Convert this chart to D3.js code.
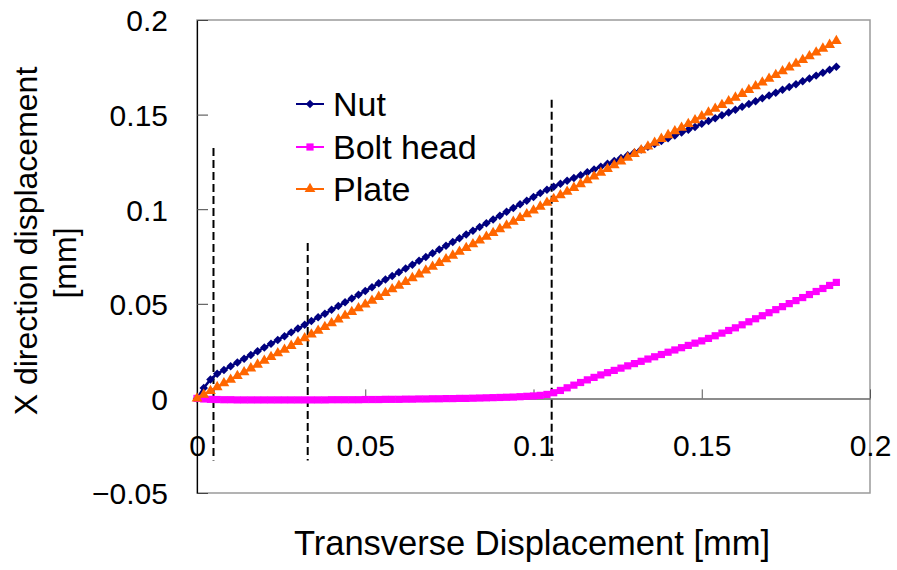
<!DOCTYPE html>
<html lang="en">

<head>
  <meta charset="utf-8">
  <title>X direction displacement</title>
  <script src="https://d3js.org/d3.v7.min.js"></script>
  <style>
	body {
	  margin: 0;
	  background: #fff;
	  font-family: "Liberation Sans", Arial, sans-serif;
	}
	svg text {
	  fill: #000;
	}
  </style>
</head>

<body>
  <script>
	// transverse displacement [mm]
	var transverse = [
		0, 0.002, 0.004, 0.006, 0.008, 0.01, 0.012, 0.014, 0.016, 0.018,
		0.02, 0.022, 0.024, 0.026, 0.028, 0.03, 0.032, 0.034, 0.036, 0.038,
		0.04, 0.042, 0.044, 0.046, 0.048, 0.05, 0.052, 0.054, 0.056, 0.058,
		0.06, 0.062, 0.064, 0.066, 0.068, 0.07, 0.072, 0.074, 0.076, 0.078,
		0.08, 0.082, 0.084, 0.086, 0.088, 0.09, 0.092, 0.094, 0.096, 0.098,
		0.1, 0.102, 0.104, 0.106, 0.108, 0.11, 0.112, 0.114, 0.116, 0.118,
		0.12, 0.122, 0.124, 0.126, 0.128, 0.13, 0.132, 0.134, 0.136, 0.138,
		0.14, 0.142, 0.144, 0.146, 0.148, 0.15, 0.152, 0.154, 0.156, 0.158,
		0.16, 0.162, 0.164, 0.166, 0.168, 0.17, 0.172, 0.174, 0.176, 0.178,
		0.18, 0.182, 0.184, 0.186, 0.188, 0.19
	];

	var nut = [
		0, 0.0055, 0.0100, 0.0130, 0.0150, 0.0170, 0.0190, 0.0210, 0.0230, 0.0249,
		0.0269, 0.0289, 0.0309, 0.0329, 0.0349, 0.0369, 0.0389, 0.0409, 0.0429, 0.0448,
		0.0468, 0.0488, 0.0508, 0.0528, 0.0548, 0.0568, 0.0588, 0.0608, 0.0628, 0.0647,
		0.0667, 0.0687, 0.0707, 0.0727, 0.0747, 0.0767, 0.0787, 0.0807, 0.0827, 0.0846,
		0.0866, 0.0886, 0.0906, 0.0926, 0.0946, 0.0966, 0.0986, 0.1006, 0.1026, 0.1045,
		0.1065, 0.1085, 0.1103, 0.1119, 0.1135, 0.1150, 0.1165, 0.1180, 0.1195, 0.1210,
		0.1225, 0.1240, 0.1255, 0.1270, 0.1285, 0.1300, 0.1315, 0.1330, 0.1345, 0.1360,
		0.1375, 0.1390, 0.1405, 0.1420, 0.1435, 0.1451, 0.1466, 0.1481, 0.1496, 0.1511,
		0.1526, 0.1541, 0.1556, 0.1571, 0.1586, 0.1601, 0.1616, 0.1631, 0.1646, 0.1661,
		0.1676, 0.1691, 0.1706, 0.1721, 0.1737, 0.1753
	];

	var boltHead = [
		0, -0.0003, -0.0005, -0.0006, -0.0007, -0.0007, -0.0008, -0.0008, -0.0008, -0.0008,
		-0.0008, -0.0008, -0.0008, -0.0008, -0.0008, -0.0008, -0.0008, -0.0008, -0.0008, -0.0008,
		-0.0007, -0.0007, -0.0007, -0.0007, -0.0007, -0.0006, -0.0006, -0.0006, -0.0005, -0.0005,
		-0.0005, -0.0004, -0.0004, -0.0003, -0.0003, -0.0002, -0.0002, -0.0001, -0.0001, 0,
		0, 0.0001, 0.0002, 0.0003, 0.0004, 0.0005, 0.0006, 0.0007, 0.0009, 0.0011,
		0.0013, 0.0016, 0.0021, 0.0030, 0.0042, 0.0056, 0.0070, 0.0084, 0.0098, 0.0111,
		0.0124, 0.0136, 0.0148, 0.0160, 0.0172, 0.0184, 0.0196, 0.0208, 0.0220, 0.0232,
		0.0244, 0.0256, 0.0268, 0.0280, 0.0292, 0.0304, 0.0317, 0.0331, 0.0345, 0.0359,
		0.0373, 0.0389, 0.0405, 0.0421, 0.0437, 0.0453, 0.0469, 0.0485, 0.0501, 0.0517,
		0.0533, 0.0549, 0.0565, 0.0581, 0.0597, 0.0613
	];

	var plate = [
		0, 0.0020, 0.0040, 0.0060, 0.0080, 0.0099, 0.0119, 0.0139, 0.0159, 0.0179,
		0.0199, 0.0219, 0.0239, 0.0258, 0.0278, 0.0298, 0.0318, 0.0338, 0.0358, 0.0378,
		0.0398, 0.0417, 0.0437, 0.0457, 0.0477, 0.0497, 0.0517, 0.0537, 0.0557, 0.0577,
		0.0596, 0.0616, 0.0636, 0.0656, 0.0676, 0.0696, 0.0716, 0.0736, 0.0755, 0.0775,
		0.0795, 0.0815, 0.0835, 0.0855, 0.0875, 0.0895, 0.0914, 0.0934, 0.0954, 0.0974,
		0.0994, 0.1014, 0.1034, 0.1054, 0.1074, 0.1093, 0.1113, 0.1133, 0.1153, 0.1173,
		0.1193, 0.1213, 0.1233, 0.1252, 0.1272, 0.1292, 0.1312, 0.1332, 0.1352, 0.1372,
		0.1392, 0.1412, 0.1431, 0.1451, 0.1471, 0.1491, 0.1511, 0.1531, 0.1551, 0.1571,
		0.1590, 0.1610, 0.1630, 0.1650, 0.1670, 0.1690, 0.1710, 0.1730, 0.1749, 0.1769,
		0.1789, 0.1809, 0.1829, 0.1849, 0.1869, 0.1889
	];

	var seriesNames = ["Nut", "Bolt head", "Plate"];

	// vertical dashed marker lines: x position, top and bottom value
	var dashX = [0.0049, 0.0329, 0.1054];
	var dashTop = [0.1323, 0.0821, 0.1578];
	var dashBottom = [-0.0328, -0.0328, -0.0328];

	var xTicks = [0, 0.05, 0.1, 0.15, 0.2];
	var xTickLabels = ["0", "0.05", "0.1", "0.15", "0.2"];
	var yTicks = [-0.05, 0, 0.05, 0.1, 0.15, 0.2];
	var yTickLabels = ["\u22120.05", "0", "0.05", "0.1", "0.15", "0.2"];

	var w = 897;
	var h = 570;
	var plotLeft = 197, plotRight = 870, plotTop = 20, plotBottom = 493;

	var xScale = d3.scaleLinear().domain([0, 0.2]).range([plotLeft, plotRight]);
	var yScale = d3.scaleLinear().domain([-0.05, 0.2]).range([plotBottom, plotTop]);

	var colours = ["#000080", "#ff00ff", "#ff6600"];
	var symbols = [
		d3.symbol().type(d3.symbolSquare).size(36),   // rotated to a diamond
		d3.symbol().type(d3.symbolSquare).size(52),
		d3.symbol().type(d3.symbolTriangle).size(50)
	];
	var rotations = [45, 0, 0];

	var seriesData = [nut, boltHead, plate].map(function (vals, k) {
		return {
			name: seriesNames[k],
			points: transverse.map(function (x, i) { return [x, vals[i]]; })
		};
	});

	var svg = d3.select("body")
	.append("svg")
	.attr("width", w)
	.attr("height", h);

	// plot frame
	svg.append("rect")
	.attr("x", plotLeft)
	.attr("y", plotTop)
	.attr("width", plotRight - plotLeft)
	.attr("height", plotBottom - plotTop)
	.attr("fill", "none")
	.attr("stroke", "#9a9a9a")
	.attr("stroke-width", 1.5);

	// x axis sits on y = 0
	var xAxis = d3.axisBottom(xScale)
	.tickValues(xTicks)
	.tickFormat(function (d, i) { return xTickLabels[i]; })
	.tickSizeInner(-9)
	.tickSizeOuter(0)
	.tickPadding(36);

	var gx = svg.append("g")
	.attr("transform", "translate(0," + yScale(0) + ")")
	.call(xAxis);
	gx.select(".domain").attr("stroke", "#666").attr("stroke-width", 1.5);
	gx.selectAll(".tick line").attr("stroke", "#555");
	gx.selectAll(".tick text")
	.style("font-family", "'Liberation Sans', Arial, sans-serif")
	.style("font-size", "30px");

	var yAxis = d3.axisLeft(yScale)
	.tickValues(yTicks)
	.tickFormat(function (d, i) { return yTickLabels[i]; })
	.tickSizeInner(-11)
	.tickSizeOuter(0)
	.tickPadding(29);

	var gy = svg.append("g")
	.attr("transform", "translate(" + plotLeft + ",0)")
	.call(yAxis);
	gy.select(".domain").attr("stroke", "#000").attr("stroke-width", 1.2);
	gy.selectAll(".tick line").attr("stroke", "#444");
	gy.selectAll(".tick text")
	.attr("dy", "0.36em")
	.style("font-family", "'Liberation Sans', Arial, sans-serif")
	.style("font-size", "30px");

	// dashed guide lines
	svg.selectAll("line.guide")
	.data(dashX)
	.enter()
	.append("line")
	.attr("class", "guide")
	.attr("x1", function (d) { return xScale(d); })
	.attr("x2", function (d) { return xScale(d); })
	.attr("y1", function (d, i) { return yScale(dashTop[i]); })
	.attr("y2", function (d, i) { return yScale(dashBottom[i]); })
	.attr("stroke", "#000")
	.attr("stroke-width", 2)
	.style("stroke-dasharray", "8, 4");

	var line = d3.line()
	.x(function (d) { return xScale(d[0]); })
	.y(function (d) { return yScale(d[1]); });

	seriesData.forEach(function (s, k) {
		var g = svg.append("g").attr("class", "series");
		g.append("path")
		.attr("d", line(s.points))
		.attr("fill", "none")
		.attr("stroke", colours[k])
		.attr("stroke-width", 2.5);
		g.selectAll("path.marker")
		.data(s.points)
		.enter()
		.append("path")
		.attr("class", "marker")
		.attr("d", symbols[k])
		.attr("transform", function (d) {
			return "translate(" + xScale(d[0]) + "," + yScale(d[1]) + ")rotate(" + rotations[k] + ")";
		})
		.attr("fill", colours[k]);
	});

	// legend
	var legend = svg.append("g");
	var legendY = [104, 147, 189];
	seriesNames.forEach(function (name, k) {
		legend.append("line")
		.attr("x1", 296).attr("x2", 324)
		.attr("y1", legendY[k]).attr("y2", legendY[k])
		.attr("stroke", colours[k])
		.attr("stroke-width", 2);
		legend.append("path")
		.attr("d", symbols[k])
		.attr("transform", "translate(310," + legendY[k] + ")rotate(" + rotations[k] + ")")
		.attr("fill", colours[k]);
		legend.append("text")
		.attr("x", 333)
		.attr("y", legendY[k])
		.attr("dy", "0.36em")
		.style("font-size", "34px")
		.text(name);
	});

	// axis titles
	svg.append("text")
	.attr("text-anchor", "middle")
	.attr("x", 532)
	.attr("y", 555)
	.style("font-size", "34.5px")
	.text("Transverse Displacement [mm]");

	svg.append("text")
	.attr("text-anchor", "middle")
	.attr("transform", "translate(37,241)rotate(-90)")
	.style("font-size", "32px")
	.text("X direction displacement");

	svg.append("text")
	.attr("text-anchor", "middle")
	.attr("transform", "translate(76,263)rotate(-90)")
	.style("font-size", "32px")
	.text("[mm]");
  </script>
</body>
</html>
